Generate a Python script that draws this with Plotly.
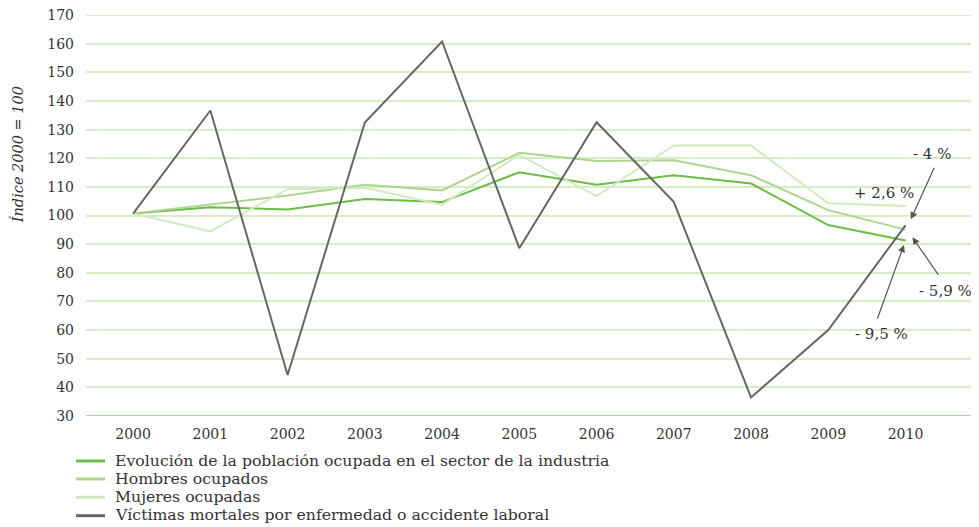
import plotly.graph_objects as go

years = [2000, 2001, 2002, 2003, 2004, 2005, 2006, 2007, 2008, 2009, 2010]
poblacion = [100.7, 102.9, 102.1, 105.8, 104.7, 115.1, 110.8, 114.1, 111.2, 96.7, 91.3]
hombres = [100.7, 103.8, 107.0, 110.8, 108.8, 121.9, 119.1, 119.3, 114.1, 101.9, 95.1]
mujeres = [100.7, 94.5, 109.2, 109.7, 103.8, 121.2, 106.8, 124.5, 124.5, 104.3, 103.3]
victimas = [100.7, 136.7, 44.3, 132.5, 160.8, 88.6, 132.6, 104.8, 36.5, 60.0, 96.6]
y_ticks = list(range(30, 171, 10))

names = [
    "Evolución de la población ocupada en el sector de la industria",
    "Hombres ocupados",
    "Mujeres ocupadas",
    "Víctimas mortales por enfermedad o accidente laboral",
]
colors = ["#6abd45", "#acd68e", "#d3e9c0", "#666666"]
series = [poblacion, hombres, mujeres, victimas]

FONT = "DejaVu Serif, Liberation Serif, serif"
TXT = "#333333"
GRID = "#d8ecc8"

fig = go.Figure()
for n, c, s in zip(names, colors, series):
    fig.add_trace(go.Scatter(x=years, y=s, mode="lines", name=n,
                             line=dict(color=c, width=2), showlegend=False))

# manual legend below the plot (paper coordinates)
leg_y = [-0.1122, -0.1571, -0.2027, -0.2486]
for n, c, yy in zip(names, colors, leg_y):
    fig.add_shape(type="line", xref="paper", yref="paper", x0=-0.0112, x1=0.0214,
                  y0=yy, y1=yy, line=dict(color=c, width=3))
    fig.add_annotation(xref="paper", yref="paper", x=0.0307, y=yy + 0.002, text=n,
                       showarrow=False, xanchor="left", yanchor="middle",
                       font=dict(family=FONT, size=15.7, color=TXT))

arrow_col = "#555555"
arrows = [
    (2010.07, 98.7, 24, -53),
    (2010.09, 92.4, 27, 39),
    (2009.98, 89.7, -27, 75),
]
for x, y, ax, ay in arrows:
    fig.add_annotation(x=x, y=y, ax=ax, ay=ay, text="", showarrow=True,
                       arrowhead=2, arrowsize=1.2, arrowwidth=1.2,
                       arrowcolor=arrow_col, standoff=0, startstandoff=0)

labels = [
    (2010.34, 121.5, "- 4 %"),
    (2009.72, 107.8, "+ 2,6 %"),
    (2010.52, 73.6, "- 5,9 %"),
    (2009.69, 58.6, "- 9,5 %"),
]
for x, y, t in labels:
    fig.add_annotation(x=x, y=y, text=t, showarrow=False,
                       font=dict(family=FONT, size=15, color=TXT))

# y-axis title
fig.add_annotation(xref="paper", yref="paper", x=-0.088, y=0.651,
                   text="<i>Índice 2000 = 100</i>", showarrow=False, textangle=-90,
                   font=dict(family=FONT, size=14.5, color=TXT))

# the page adds an 8px body margin; size the figure so the plot area lands where intended
fig.update_layout(
    width=971, height=519,
    margin=dict(l=78, r=4, t=7, b=111),
    paper_bgcolor="white", plot_bgcolor="white",
    font=dict(family=FONT, size=14, color=TXT),
    showlegend=False,
    xaxis=dict(range=[1999.39, 2010.9], tickmode="array", tickvals=years,
               ticktext=[str(y) for y in years], showgrid=False, zeroline=False,
               showline=False, ticks="", ticklabelstandoff=8, automargin=False,
               tickfont=dict(family=FONT, size=14, color=TXT)),
    yaxis=dict(range=[30, 170.05], tickmode="array", tickvals=y_ticks,
               showgrid=True, gridcolor=GRID, gridwidth=1.5, zeroline=False,
               showline=False, ticks="", ticklabelstandoff=11, automargin=False,
               ticklabeloverflow="allow",
               tickfont=dict(family=FONT, size=14, color=TXT)),
)
# top gridline (plotly drops gridlines sitting on the plot edge)
fig.add_shape(type="line", xref="paper", yref="y", x0=0, x1=1, y0=y_ticks[-1], y1=y_ticks[-1],
              line=dict(color=GRID, width=1.5), layer="below")
fig.add_shape(type="line", xref="paper", yref="y", x0=0, x1=1, y0=y_ticks[0], y1=y_ticks[0],
              line=dict(color="#8cc96b", width=1.5))

fig.write_html("out.html")
